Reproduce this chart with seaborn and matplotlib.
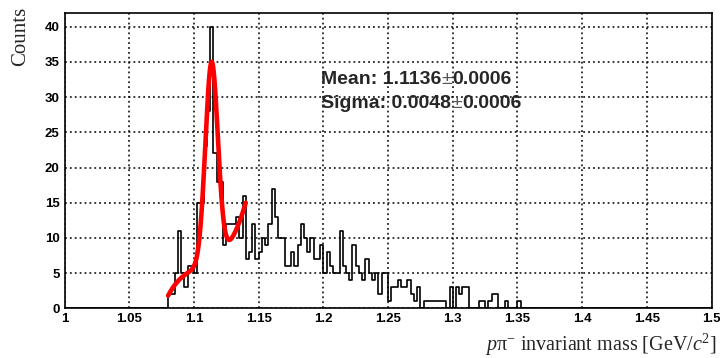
import numpy as np
import pandas as pd
import matplotlib
matplotlib.use("Agg")
import matplotlib.pyplot as plt
from matplotlib.ticker import MultipleLocator, FuncFormatter
import seaborn as sns

# p pi- invariant mass histogram, 2.5 MeV bins over [1.0, 1.5] GeV
hist_lo = 1.0
hist_hi = 1.5
bin_width = 0.0025
first_filled = 1.080          # lower edge of the first non-empty bin
counts = [2, 2, 5, 11, 5, 3, 6, 6, 5, 15,
          15, 23, 28, 40, 22, 18, 18, 9, 12, 12,
          12, 13, 10, 16, 7, 8, 12, 7, 8, 10,
          9, 12, 17, 13, 10, 10, 6, 6, 8, 6,
          9, 12, 10, 8, 10, 7, 7, 9, 5, 8,
          6, 5, 5, 11, 6, 5, 4, 9, 6, 5,
          4, 7, 5, 4, 5, 2, 5, 5, 1, 3,
          3, 4, 3, 3, 4, 2, 1, 3, 0, 1,
          1, 1, 1, 1, 1, 1, 0, 3, 0, 3,
          2, 3, 3, 0, 0, 0, 1, 1, 0, 1,
          2, 2, 0, 0, 1, 0, 0, 0, 1]

# Fit: Gaussian signal + cubic background, fitted over [1.08, 1.14]
fit_range = (1.08, 1.14)
gaus_amp = 28.4
gaus_mean = 1.1136
gaus_mean_err = 0.0006
gaus_sigma = 0.0048
gaus_sigma_err = 0.0006
bkg_center = 1.11
bkg_scale = 0.01
bkg_coeffs = [6.271, 0.858, 0.2366, 0.1491]

x_ticks = [1.0, 1.05, 1.1, 1.15, 1.2, 1.25, 1.3, 1.35, 1.4, 1.45, 1.5]
y_ticks = [0, 5, 10, 15, 20, 25, 30, 35, 40]

# ---------------------------------------------------------------------------
sns.set_style("white")
plt.rcParams["font.family"] = ["Liberation Sans", "DejaVu Sans"]
plt.rcParams["mathtext.fontset"] = "custom"
plt.rcParams["mathtext.rm"] = "Liberation Serif"
plt.rcParams["mathtext.it"] = "Liberation Serif:italic"
plt.rcParams["mathtext.bf"] = "Liberation Serif:bold"

fig = plt.figure(figsize=(7.2, 3.58), dpi=100)
fig.patch.set_facecolor("white")
ax = fig.add_axes([0.0897, 0.1388, 0.8986, 0.8257])
ax.set_facecolor("white")

centers = first_filled + bin_width * (np.arange(len(counts)) + 0.5)
hist_df = pd.DataFrame({"mass": centers, "counts": counts})

sns.histplot(data=hist_df, x="mass", weights="counts",
             binwidth=bin_width, binrange=(hist_lo, hist_hi),
             element="step", fill=False, color="black", linewidth=1.2,
             ax=ax)

# Fit curve
xf = np.linspace(fit_range[0], fit_range[1], 400)
u = (xf - bkg_center) / bkg_scale
bkg = sum(c * u ** i for i, c in enumerate(bkg_coeffs))
sig = gaus_amp * np.exp(-0.5 * ((xf - gaus_mean) / gaus_sigma) ** 2)
fit_df = pd.DataFrame({"mass": xf, "fit": sig + bkg})
sns.lineplot(data=fit_df, x="mass", y="fit", color="#ff0000", linewidth=3.3,
             estimator=None, sort=False, ax=ax)

ax.set_xlim(hist_lo, hist_hi)
ax.set_ylim(0, 42)
ax.set_xticks(x_ticks)
ax.set_yticks(y_ticks)
ax.xaxis.set_minor_locator(MultipleLocator(0.01))
ax.yaxis.set_minor_locator(MultipleLocator(1))
ax.xaxis.set_major_formatter(FuncFormatter(lambda v, p: f"{v:g}"))
ax.yaxis.set_major_formatter(FuncFormatter(lambda v, p: f"{v:g}"))

ax.grid(True, which="major", color="black", linestyle=(0, (1.2, 2.0)),
        linewidth=1.1)
ax.set_axisbelow(True)

ax.tick_params(axis="both", which="both", direction="in", top=False,
               right=False, colors="black", labelsize=9.5, pad=3.5)
ax.tick_params(axis="x", which="major", length=6, width=1.0)
ax.tick_params(axis="x", which="minor", length=3.6, width=0.9)
ax.tick_params(axis="y", which="major", length=7.5, width=1.0)
ax.tick_params(axis="y", which="minor", length=5.2, width=0.9)
for lab in ax.get_xticklabels() + ax.get_yticklabels():
    lab.set_fontweight("bold")

for sp in ax.spines.values():
    sp.set_visible(True)
    sp.set_color("black")
    sp.set_linewidth(1.2)

ax.set_xlabel("")
ax.set_ylabel("")

fig.text(21 / 720, 1 - 7 / 358, "Counts", rotation=90, ha="center",
         va="top", fontsize=15, family="Liberation Serif")
fig.text(717 / 720, 1 - 351 / 358,
         r"$p\mathrm{\pi}^{-}$ invariant mass [GeV/$c^{2}$]",
         ha="right", va="baseline", fontsize=14.5, family="Liberation Serif")

# Fit results
def result_line(y, name, value, err):
    t1 = ax.text(1.1985, y, f"{name}: {value:.4f}", fontsize=14,
                 fontweight="bold", ha="left", va="baseline", zorder=5)
    t2 = ax.annotate("\u00b1", xy=(1, 0), xycoords=t1, fontsize=14,
                     color="#555555", ha="left", va="bottom", zorder=5)
    ax.annotate(f"{err:.4f}", xy=(1, 0), xycoords=t2, fontsize=14,
                fontweight="bold", ha="left", va="bottom", zorder=5)

result_line(31.8, "Mean", gaus_mean, gaus_mean_err)
result_line(28.4, "Sigma", gaus_sigma, gaus_sigma_err)

fig.savefig("out.png", dpi=100, facecolor="white")
